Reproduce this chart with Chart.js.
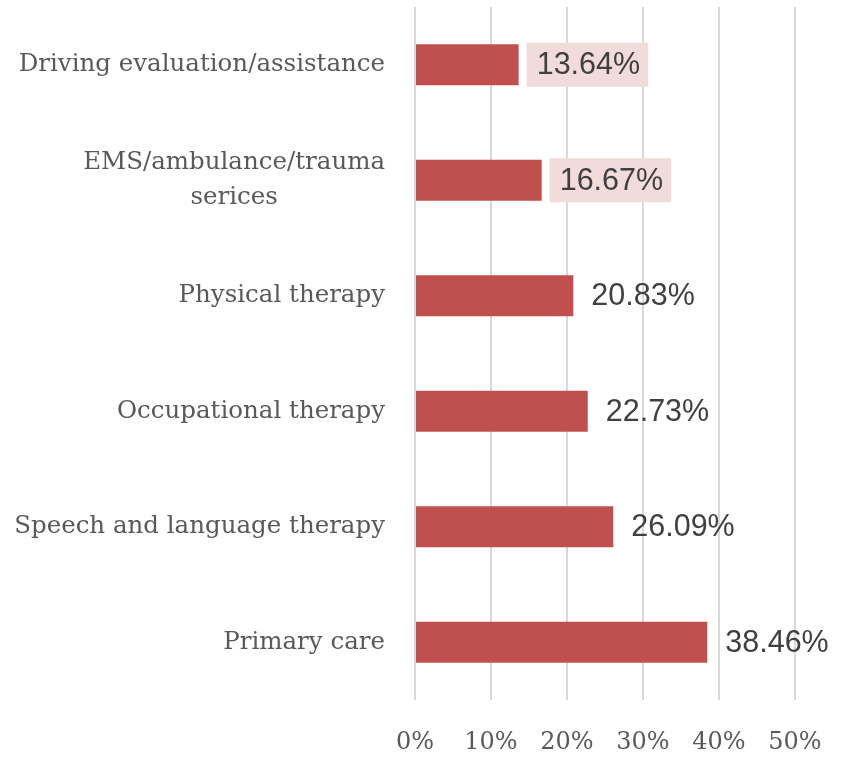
<!DOCTYPE html>
<html lang="en">
<head>
    <meta charset="UTF-8">
    <title>Services</title>
    <script src="https://cdn.jsdelivr.net/npm/chart.js@4.4.1/dist/chart.umd.min.js"></script>
    <style>
        body {
            margin: 0;
            background: #ffffff;
        }
        #chart {
            display: block;
        }
    </style>
</head>
<body>
    <canvas id="chart" width="846" height="757"></canvas>

    <script>
        const categories = [
            'Driving evaluation/assistance',
            ['EMS/ambulance/trauma', 'serices'],
            'Physical therapy',
            'Occupational therapy',
            'Speech and language therapy',
            'Primary care'
        ];
        const values = [13.64, 16.67, 20.83, 22.73, 26.09, 38.46];
        const highlighted = [true, true, false, false, false, false];
        const xTicks = [0, 10, 20, 30, 40, 50];

        const labelFont = '24.5px "DejaVu Serif", serif';
        const valueFont = '30.5px "Liberation Sans", Arial, sans-serif';

        // category labels: block right-aligned, wrapped lines centered on each other
        const categoryLabels = {
            id: 'categoryLabels',
            afterDraw(chart) {
                const ctx = chart.ctx;
                const yScale = chart.scales.y;
                const right = 385;
                const lineHeight = 35;
                ctx.save();
                ctx.font = labelFont;
                ctx.fillStyle = '#595959';
                ctx.textBaseline = 'middle';
                ctx.textAlign = 'center';
                categories.forEach((label, i) => {
                    const lines = Array.isArray(label) ? label : [label];
                    const y = yScale.getPixelForTick(i);
                    const maxW = Math.max(...lines.map(l => ctx.measureText(l).width));
                    const cx = right - maxW / 2;
                    lines.forEach((line, j) => {
                        const ly = y + (j - (lines.length - 1) / 2) * lineHeight;
                        ctx.fillText(line, cx, ly);
                    });
                });
                ctx.restore();
            }
        };

        // value labels at the bar ends
        const valueLabels = {
            id: 'valueLabels',
            afterDatasetsDraw(chart) {
                const ctx = chart.ctx;
                const meta = chart.getDatasetMeta(0);
                ctx.save();
                ctx.font = valueFont;
                ctx.textBaseline = 'middle';
                ctx.textAlign = 'left';
                meta.data.forEach((bar, i) => {
                    const text = values[i].toFixed(2) + '%';
                    const w = ctx.measureText(text).width;
                    const x0 = bar.x + 8;
                    if (highlighted[i]) {
                        ctx.fillStyle = '#f2dcdb';
                        ctx.fillRect(x0, bar.y - 22, w + 18, 44);
                    }
                    ctx.fillStyle = '#404040';
                    ctx.fillText(text, x0 + 10, bar.y + 1);
                });
                ctx.restore();
            }
        };

        new Chart(document.getElementById('chart'), {
            type: 'bar',
            data: {
                labels: categories,
                datasets: [{
                    data: values,
                    backgroundColor: '#c0504d',
                    borderWidth: 0,
                    barPercentage: 0.355,
                    categoryPercentage: 1
                }]
            },
            options: {
                indexAxis: 'y',
                responsive: false,
                animation: false,
                layout: {
                    padding: { top: 7, right: 51, left: 0, bottom: 0 }
                },
                plugins: {
                    legend: { display: false },
                    tooltip: { enabled: false }
                },
                scales: {
                    x: {
                        min: xTicks[0],
                        max: xTicks[xTicks.length - 1],
                        afterBuildTicks(scale) {
                            scale.ticks = xTicks.map(v => ({ value: v }));
                        },
                        afterFit(scale) {
                            scale.height = 57;
                            scale.paddingLeft = 0;
                            scale.paddingRight = 0;
                        },
                        grid: {
                            color: '#d9d9d9',
                            lineWidth: 2,
                            drawTicks: false
                        },
                        border: { display: false },
                        ticks: {
                            padding: 28,
                            maxRotation: 0,
                            color: '#595959',
                            font: { family: '"DejaVu Serif", serif', size: 24 },
                            callback: v => v + '%'
                        }
                    },
                    y: {
                        afterFit(scale) {
                            scale.width = 415;
                        },
                        grid: { display: false },
                        border: { display: false },
                        ticks: { display: false }
                    }
                }
            },
            plugins: [categoryLabels, valueLabels]
        });
    </script>
</body>
</html>
